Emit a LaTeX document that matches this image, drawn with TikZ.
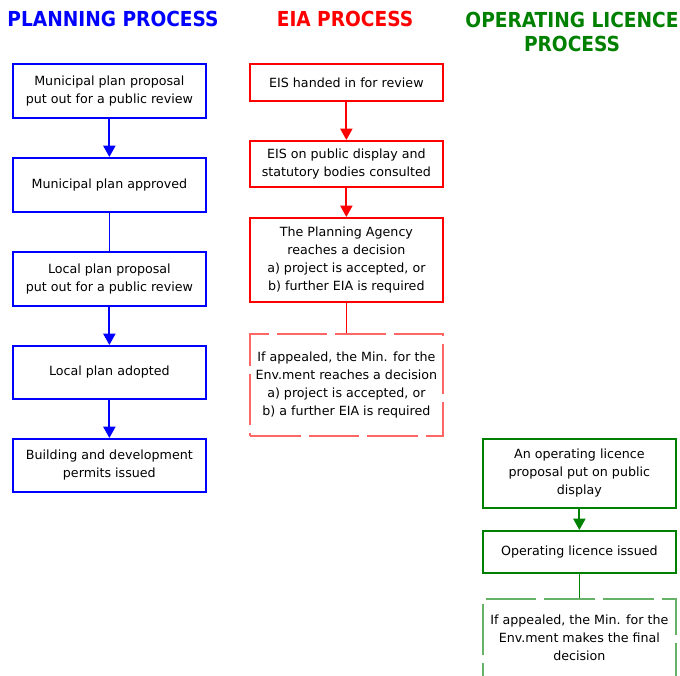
\documentclass[tikz,border=0pt]{standalone}
\usepackage{fontspec}
\setmainfont{DejaVu Sans}
\newfontfamily\headfont{DejaVu Sans Condensed}
\usetikzlibrary{arrows.meta}

\begin{document}
\begin{tikzpicture}[x=0.75pt,y=-0.75pt,
  box/.style={draw=#1,line width=1.3pt,minimum width=144.75pt,anchor=north west,
    align=center,inner sep=0pt,font=\fontsize{9.5}{13.5}\selectfont},
  dbox/.style={box=#1,dash pattern=on 38pt off 6pt},
  head/.style={text=#1,align=center,font=\headfont\bfseries\fontsize{15.5}{18.5}\selectfont},
  flow/.style={draw=#1,line width=1.5pt,-{Triangle[length=8.5pt,width=9pt]}},
  link/.style={draw=#1,line width=0.6pt}]

\useasboundingbox (0,0) rectangle (680,675);

% headings
\node[head=blue] (hplan) at (113,19) {PLANNING PROCESS};
\node[head=red] (heia) at (345,19) {EIA PROCESS};
\node[head={green!50!black}] (hlic) at (572,32) {OPERATING LICENCE\\PROCESS};

% planning process
\node[box=blue,minimum height=40.5pt] (mpp) at (12,63) {Municipal plan proposal\\put out for a public review};
\node[box=blue,minimum height=40.5pt] (mpa) at (12,157) {Municipal plan approved};
\node[box=blue,minimum height=40.5pt] (lpp) at (12,251) {Local plan proposal\\put out for a public review};
\node[box=blue,minimum height=39.75pt] (lpa) at (12,345) {Local plan adopted};
\node[box=blue,minimum height=39.75pt] (bdp) at (12,438) {Building and development\\permits issued};

\draw[flow=blue] (mpp) -- (mpa);
\draw[link=blue] (mpa) -- (lpp);
\draw[flow=blue] (lpp) -- (lpa);
\draw[flow=blue] (lpa) -- (bdp);

% EIA process
\node[box=red,minimum height=27.75pt] (eis) at (249,63) {EIS handed in for review};
\node[box=red,minimum height=34.5pt] (disp) at (249,140) {EIS on public display and\\statutory bodies consulted};
\node[box=red,minimum height=63pt] (agency) at (249,217) {The Planning Agency\\reaches a decision\\a) project is accepted, or\\b) further EIA is required};
\node[dbox=red!60,minimum height=76.5pt] (minenv) at (249,333) {If appealed, the Min. for the\\Env.ment reaches a decision\\a) project is accepted, or\\b) a further EIA is required};

\draw[flow=red] (eis) -- (disp);
\draw[flow=red] (disp) -- (agency);
\draw[link=red] (agency) -- (minenv);

% operating licence process
\node[box={green!50!black},minimum height=51.75pt] (olp) at (482,438) {An operating licence\\proposal put on public\\display};
\node[box={green!50!black},minimum height=31.5pt] (oli) at (482,530) {Operating licence issued};
\node[dbox={green!50!black!60},minimum height=58.5pt] (final) at (482,598) {If appealed, the Min. for the\\Env.ment makes the final\\decision};

\draw[flow={green!50!black}] (olp) -- (oli);
\draw[link={green!50!black}] (oli) -- (final);

\end{tikzpicture}
\end{document}
